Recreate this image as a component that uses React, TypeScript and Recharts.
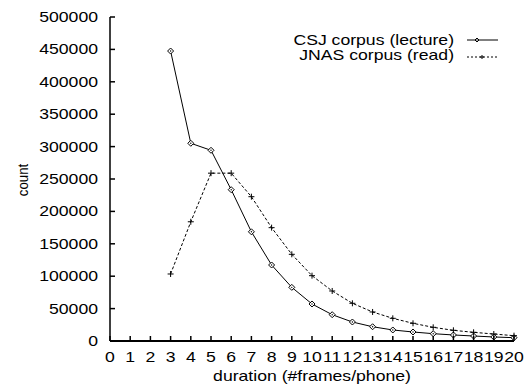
import React from 'react'
import { LineChart, Line, XAxis, YAxis, Legend } from 'recharts'

const durations = [3, 4, 5, 6, 7, 8, 9, 10, 11, 12, 13, 14, 15, 16, 17, 18, 19, 20]
const csjCounts = [447500, 305100, 294300, 233500, 168500, 117300, 82800, 57100, 40600, 29300, 22000, 17000, 13900, 11300, 9300, 7700, 6200, 5100]
const jnasCounts = [103400, 184000, 259000, 259000, 222700, 174900, 133800, 100800, 77200, 58200, 44800, 35000, 27300, 21100, 16500, 13400, 10800, 8200]
const xTicks = [0, 1, 2, 3, 4, 5, 6, 7, 8, 9, 10, 11, 12, 13, 14, 15, 16, 17, 18, 19, 20]
const yTicks = [0, 50000, 100000, 150000, 200000, 250000, 300000, 350000, 400000, 450000, 500000]

const data = durations.map((d, i) => ({ d, csj: csjCounts[i], jnas: jnasCounts[i] }))

const FONT = '"Liberation Sans", Arial, sans-serif'
const SX = 1.26

function BottomTick({ x, y, payload }: any) {
  return (
    <g>
      <line x1={x} x2={x} y1={y} y2={y - 5} stroke="#000" strokeWidth={1.5} />
      <text transform={`translate(${x},${y + 21}) scale(${SX},1)`} textAnchor="middle" fontFamily={FONT} fontSize={14} fill="#000">
        {payload.value}
      </text>
    </g>
  )
}

function TopTick({ x, y }: any) {
  return <line x1={x} x2={x} y1={y} y2={y + 5} stroke="#000" strokeWidth={1.5} />
}

function LeftTick({ x, y, payload }: any) {
  return (
    <g>
      <line x1={x} x2={x + 5} y1={y} y2={y} stroke="#000" strokeWidth={1.5} />
      <text transform={`translate(${x - 12},${y + 5}) scale(${SX},1)`} textAnchor="end" fontFamily={FONT} fontSize={14} fill="#000">
        {payload.value}
      </text>
    </g>
  )
}

function RightTick({ x, y }: any) {
  return <line x1={x} x2={x - 5} y1={y} y2={y} stroke="#000" strokeWidth={1.5} />
}

function Diamond({ cx, cy, r = 2.8 }: any) {
  if (cx == null || cy == null) return null
  return (
    <g>
      <polygon points={`${cx},${cy - r} ${cx + r},${cy} ${cx},${cy + r} ${cx - r},${cy}`} fill="#fff" stroke="#000" strokeWidth={1} />
      <circle cx={cx} cy={cy} r={0.7} fill="#000" />
    </g>
  )
}

function Plus({ cx, cy, r = 2.6 }: any) {
  if (cx == null || cy == null) return null
  return (
    <g stroke="#000" strokeWidth={1}>
      <line x1={cx - r} x2={cx + r} y1={cy} y2={cy} />
      <line x1={cx} x2={cx} y1={cy - r} y2={cy + r} />
    </g>
  )
}

function LegendBox() {
  const rows = [
    { name: 'CSJ corpus (lecture)', dash: undefined, Marker: Diamond, ty: 45, ly: 40, mx: 477 },
    { name: 'JNAS corpus (read)', dash: '2 2', Marker: Plus, ty: 60, ly: 57, mx: 482 },
  ]
  return (
    <svg width={526} height={80} style={{ display: 'block' }}>
      {rows.map(({ name, dash, Marker, ty, ly, mx }) => (
        <g key={name}>
          <text transform={`translate(454,${ty}) scale(${SX},1)`} textAnchor="end" fontFamily={FONT} fontSize={14} fill="#000">
            {name}
          </text>
          <line x1={467} x2={498} y1={ly} y2={ly} stroke="#000" strokeDasharray={dash} />
          <Marker cx={mx} cy={ly} r={2} />
        </g>
      ))}
    </svg>
  )
}

export default function App() {
  return (
    <div style={{ position: 'absolute', left: 0, top: 0, width: 526, height: 385, background: '#fff' }}>
      <LineChart width={526} height={385} data={data} margin={{ top: 17, right: 12, bottom: 0, left: 0 }}>
        <XAxis
          dataKey="d"
          type="number"
          domain={[0, 20]}
          ticks={xTicks}
          interval={0}
          height={44}
          tickSize={0}
          tickMargin={0}
          tickLine={false}
          tick={<BottomTick />}
          axisLine={{ stroke: '#000', strokeWidth: 2 }}
          label={{
            content: ({ viewBox }: any) => (
              <text
                transform={`translate(${viewBox.x + viewBox.width / 2},${viewBox.y + 40}) scale(${SX},1)`}
                textAnchor="middle"
                fontFamily={FONT}
                fontSize={14}
                fill="#000"
              >
                duration (#frames/phone)
              </text>
            ),
          }}
        />
        <XAxis
          xAxisId="top"
          orientation="top"
          dataKey="d"
          type="number"
          domain={[0, 20]}
          ticks={xTicks}
          interval={0}
          height={0}
          tickSize={0}
          tickMargin={0}
          tickLine={false}
          tick={<TopTick />}
          axisLine={{ stroke: '#000', strokeWidth: 2 }}
        />
        <YAxis
          type="number"
          domain={[0, 500000]}
          ticks={yTicks}
          interval={0}
          width={110}
          tickSize={0}
          tickMargin={0}
          tickLine={false}
          tick={<LeftTick />}
          axisLine={{ stroke: '#000', strokeWidth: 1.5 }}
          label={{
            content: ({ viewBox }: any) => (
              <text
                transform={`translate(28,${viewBox.y + viewBox.height / 2 + 1}) rotate(-90) scale(0.95,1)`}
                textAnchor="middle"
                fontFamily={FONT}
                fontSize={14}
                fill="#000"
              >
                count
              </text>
            ),
          }}
        />
        <YAxis
          yAxisId="right"
          orientation="right"
          type="number"
          domain={[0, 500000]}
          ticks={yTicks}
          interval={0}
          width={0}
          tickSize={0}
          tickMargin={0}
          tickLine={false}
          tick={<RightTick />}
          axisLine={{ stroke: '#000', strokeWidth: 1.5 }}
        />
        <Legend
          layout="horizontal"
          verticalAlign="middle"
          align="center"
          wrapperStyle={{ position: 'absolute', left: 0, top: 0, width: 526, height: 80 }}
          content={() => <LegendBox />}
        />
        <Line
          type="linear"
          dataKey="csj"
          name="CSJ corpus (lecture)"
          stroke="#000"
          strokeWidth={1}
          dot={<Diamond />}
          activeDot={false}
          isAnimationActive={false}
        />
        <Line
          type="linear"
          dataKey="jnas"
          name="JNAS corpus (read)"
          stroke="#000"
          strokeWidth={1}
          strokeDasharray="3 2"
          dot={<Plus />}
          activeDot={false}
          isAnimationActive={false}
        />
      </LineChart>
    </div>
  )
}
